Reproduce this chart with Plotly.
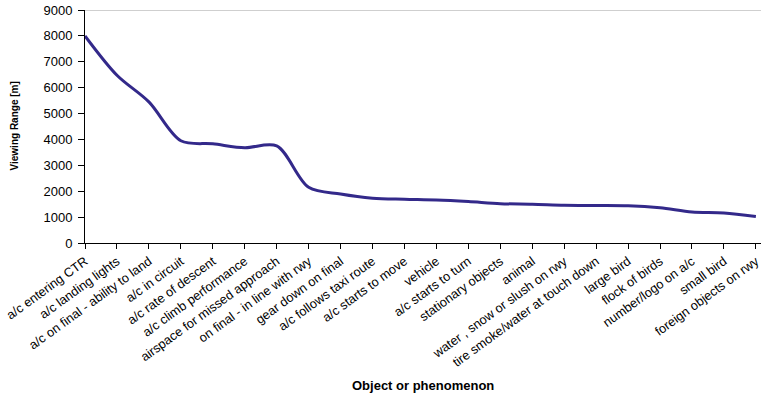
import plotly.graph_objects as go

# Objects / phenomena, in order of decreasing viewing range
categories = [
    "a/c entering CTR",
    "a/c landing lights",
    "a/c on final - ability to land",
    "a/c in circuit",
    "a/c rate of descent",
    "a/c climb performance",
    "airspace for missed approach",
    "on final - in line with rwy",
    "gear down on final",
    "a/c follows taxi route",
    "a/c starts to move",
    "vehicle",
    "a/c starts to turn",
    "stationary objects",
    "animal",
    "water , snow or slush on rwy",
    "tire smoke/water at touch down",
    "large bird",
    "flock of birds",
    "number/logo on a/c",
    "small bird",
    "foreign objects on rwy",
]

# Viewing range in metres
viewing_range = [
    8000, 6480, 5450, 3950, 3830, 3680, 3750, 2150, 1890, 1730, 1690,
    1660, 1600, 1520, 1500, 1460, 1450, 1440, 1360, 1200, 1160, 1020,
]

y_ticks = [0, 1000, 2000, 3000, 4000, 5000, 6000, 7000, 8000, 9000]

FONT = "Arial, Liberation Sans, sans-serif"
NARROW = "Arial Narrow, Liberation Sans Narrow, Arial, sans-serif"

fig = go.Figure()
fig.add_trace(
    go.Scatter(
        x=list(range(len(categories))),
        y=viewing_range,
        mode="lines",
        line=dict(color="#33298a", width=3, shape="spline", smoothing=0.9),
        hoverinfo="skip",
    )
)

fig.update_layout(
    width=761,
    height=394,
    margin=dict(l=85, r=0, t=10, b=151),
    paper_bgcolor="white",
    plot_bgcolor="white",
    showlegend=False,
    font=dict(family=FONT, color="black", size=13),
    xaxis=dict(
        range=[0, len(categories) - 1 + 0.16],
        tickmode="array",
        tickvals=list(range(len(categories))),
        ticktext=categories,
        tickangle=-36,
        tickfont=dict(size=12.8),
        ticks="outside",
        ticklen=5,
        tickcolor="black",
        showline=True,
        linecolor="black",
        linewidth=1,
        showgrid=False,
        zeroline=False,
        automargin=False,
        ticklabeloverflow="allow",
    ),
    yaxis=dict(
        range=[0, 9000],
        tickmode="array",
        tickvals=y_ticks,
        ticktext=[str(v) for v in y_ticks],
        tickfont=dict(size=13),
        ticks="outside",
        ticklen=6,
        tickcolor="black",
        ticklabelstandoff=3,
        showline=True,
        linecolor="black",
        linewidth=1,
        showgrid=False,
        zeroline=False,
        automargin=False,
    ),
    shapes=[
        dict(
            type="line", xref="paper", yref="y",
            x0=0, x1=1, y0=9000, y1=9000,
            line=dict(color="#a0a0a0", width=1),
        )
    ],
    annotations=[
        dict(
            text="<b>Object or phenomenon</b>",
            xref="paper", yref="paper",
            x=0.5, y=0, yshift=-142,
            xanchor="center", yanchor="middle",
            showarrow=False,
            font=dict(size=13, family=FONT),
        ),
        dict(
            text="<b>Viewing Range [m]</b>",
            xref="paper", yref="paper",
            x=0, xshift=-71, y=0.5,
            xanchor="center", yanchor="middle",
            textangle=-90,
            showarrow=False,
            font=dict(size=10, family=NARROW),
        ),
    ],
)

fig.write_html("out.html")
